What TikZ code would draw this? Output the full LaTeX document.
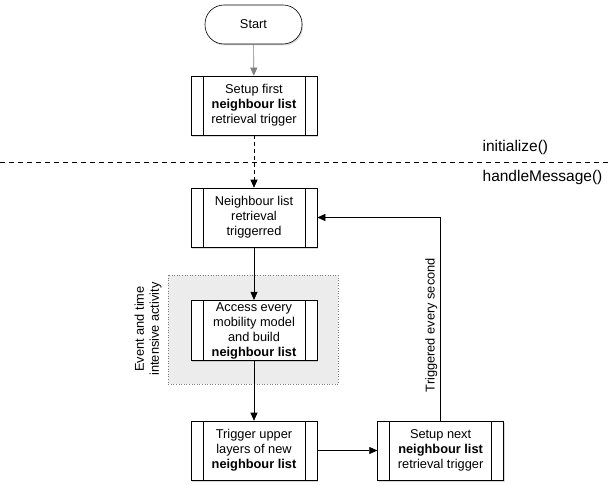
\documentclass[tikz,border=0pt]{standalone}
\usepackage{fontspec}
\setmainfont{Liberation Sans}
\usetikzlibrary{positioning,shadows,arrows.meta}

\begin{document}
\begin{tikzpicture}[x=1pt, y=-1pt, line width=0.6pt, >={Triangle[length=8pt,width=7pt]},
	proc/.style = {draw, fill=white, minimum width=126pt, minimum height=59pt, inner sep=2pt, align=center,
		font=\fontsize{12.8}{15}\selectfont,
		drop shadow={shadow xshift=1pt, shadow yshift=-1.5pt, opacity=0.3},
		path picture={
			\draw ([xshift=12pt]path picture bounding box.north west) -- ([xshift=12pt]path picture bounding box.south west);
			\draw ([xshift=-12pt]path picture bounding box.north east) -- ([xshift=-12pt]path picture bounding box.south east);}},
	term/.style = {draw, fill=white, rounded corners=19pt, minimum width=97pt, minimum height=39pt,
		font=\fontsize{12.8}{15}\selectfont, drop shadow={shadow xshift=1pt, shadow yshift=-1.5pt, opacity=0.3}},
	lbl/.style = {font=\fontsize{12.8}{15}\selectfont, align=center},
	phase/.style = {font=\fontsize{15.5}{18}\selectfont, anchor=west}]
	\useasboundingbox (0,0) rectangle (609,484);

	% activity region
	\draw[gray, dotted, fill=gray!15] (168,275) rectangle (338,384);
	\node[lbl, rotate=90] (act) at (148,329) {Event and time\\intensive activity};

	% init / handle split
	\coordinate (split0) at (0,162);
	\coordinate (split1) at (609,162);
	\draw[dash pattern=on 5pt off 4pt] (split0) -- (split1);
	\node[phase] (init) at (479,147) {initialize()};
	\node[phase] (handle) at (479,177) {handleMessage()};

	\node[term] (start) at (253.5,24.5) {Start};
	\node[proc] (setup1) at (254,105.5) {Setup first\\\textbf{neighbour list}\\retrieval trigger};
	\node[proc] (trig) at (254,217.5) {Neighbour list\\retrieval\\triggerred};
	\node[proc] (access) at (254,330.5) {Access every\\mobility model\\and build\\\textbf{neighbour list}};
	\node[proc] (upper) at (254,450.5) {Trigger upper\\layers of new\\\textbf{neighbour list}};
	\node[proc] (setup2) [right=60pt of upper] {Setup next\\\textbf{neighbour list}\\retrieval trigger};

	\draw[->, gray] (start) -- (setup1);
	\draw[->, dash pattern=on 4pt off 3pt] (setup1) -- (trig);
	\draw[->] (trig) -- (access);
	\draw[->] (access) -- (upper);
	\draw[->] (upper) -- (setup2);
	\draw[->] (setup2.north) |- node[lbl, pos=0.235, rotate=90, anchor=south, inner sep=3pt] {Triggered every second} (trig.east);

\end{tikzpicture}
\end{document}
